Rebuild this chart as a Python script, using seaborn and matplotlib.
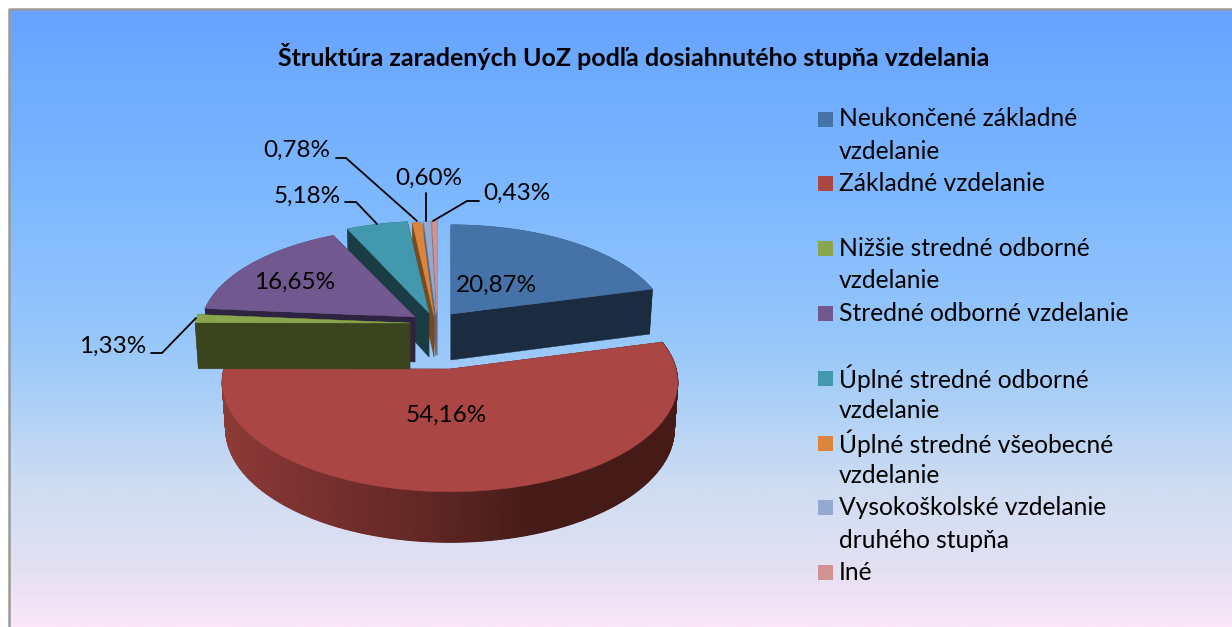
import numpy as np
import matplotlib
matplotlib.use("Agg")
import matplotlib.pyplot as plt
from matplotlib.patches import Rectangle
from matplotlib.colors import LinearSegmentedColormap
import seaborn as sns

title = "Štruktúra zaradených UoZ podľa dosiahnutého stupňa vzdelania"
categories = ["Neukončené základné\nvzdelanie", "Základné vzdelanie\n", "Nižšie stredné odborné\nvzdelanie",
              "Stredné odborné vzdelanie\n", "Úplné stredné odborné\nvzdelanie", "Úplné stredné všeobecné\nvzdelanie",
              "Vysokoškolské vzdelanie\ndruhého stupňa", "Iné"]
values = [20.87, 54.16, 1.33, 16.65, 5.18, 0.78, 0.60, 0.43]

top_colors = ["#4572A7", "#AA4643", "#89A54E", "#71588F", "#4198AF", "#DB843D", "#93A9CF", "#D19392"]
side_colors = ["#1B2B40", "#461B17", "#3A441E", "#2E2340", "#1A3C45", "#7A4A1C", "#5A6880", "#806060"]

# layout of the exploded 3-D pie in pixel space: apex x, apex y, radius x, radius y, depth
layout = [(451, 314, 215, 100, 46), (450, 369, 226, 108, 46), (410, 323, 215, 100, 46), (415, 317, 213, 100, 45),
          (429, 313, 213, 103, 44), (434, 316, 213, 105, 41), (436, 315, 213, 105, 41), (437, 314, 213, 105, 41)]
PERSP = 0.12

label_pos = [(496, 285), (446, 415), (113, 346), (295, 282), (307, 196), (297, 150), (429, 178), (517, 193)]
leaders = {2: [(151, 353), (162, 353), (196, 318)], 4: [(345, 202), (356, 202), (377, 224)],
           5: [(336, 158), (346, 158), (417, 221)], 6: [(426, 193), (426, 221)],
           7: [(479, 201), (467, 201), (433, 221)]}
draw_order = [7, 6, 5, 4, 3, 1, 2, 0]

sns.set_theme(style="white")
plt.rcParams["font.family"] = ["Lato", "DejaVu Sans"]
palette = sns.color_palette(top_colors)

fig = plt.figure(figsize=(12.32, 6.27), dpi=100, facecolor="white")
ax = fig.add_axes([0, 0, 1, 1])
ax.set_xlim(0, 1232)
ax.set_ylim(627, 0)
ax.axis("off")

# background gradient
stops = [(0.0, "#66A3FF"), (0.30, "#7DB8FF"), (0.55, "#99C8FA"), (0.78, "#CFDDF2"), (0.90, "#E2E0F2"), (1.0, "#FAE6F8")]
cmap = LinearSegmentedColormap.from_list("bg", stops)
ax.imshow(np.linspace(0, 1, 256).reshape(-1, 1), cmap=cmap, extent=(10, 1232, 627, 9), aspect="auto", zorder=0)
ax.set_xlim(0, 1232)
ax.set_ylim(627, 0)
ax.plot([9, 9, 1232], [627, 8.5, 8.5], color="#9A9A9A", lw=1.8, solid_capstyle="butt", zorder=1)


def rim(theta, wedge, lower=False):
    cx, cy, rx, ry, d = wedge
    X, Y = np.sin(theta), np.cos(theta)
    s = 1 / (1 + PERSP * Y)
    k = 0.985 if lower else 1.0
    return cx + k * rx * X * s, cy - k * ry * Y * s + (d * s if lower else 0)


edges = np.radians(np.concatenate([[0], np.cumsum(values)]) * 3.6)


def red_side(x):
    xs = [225, 310, 430, 530, 680]
    rgb = np.array([[140, 58, 54], [122, 50, 47], [96, 39, 37], [70, 28, 24], [70, 27, 23]]) / 255
    return [np.interp(x, xs, rgb[:, i]) for i in range(3)]


for z0, i in enumerate(draw_order):
    w = layout[i]
    z = 2 + z0
    t0, t1 = edges[i], edges[i + 1]
    th = np.linspace(t0, t1, max(int(np.degrees(t1 - t0) / 0.6), 3))
    tx, ty = rim(th, w)
    bx, by = rim(th, w, lower=True)
    apex = (w[0], w[1])
    low = (w[0], w[1] + w[4])
    side = side_colors[i]
    # cut faces
    for a in (0, -1):
        ax.fill([apex[0], tx[a], bx[a], low[0]], [apex[1], ty[a], by[a], low[1]], color=side, lw=0.3, zorder=z)
    # rim wall: a solid base, then shaded strips over it
    ax.fill(np.r_[tx, bx[::-1]], np.r_[ty, by[::-1]], color=side, lw=0, zorder=z)
    if i == 1:
        for j in range(len(th) - 1):
            col = red_side((tx[j] + tx[j + 1]) / 2)
            ax.fill([tx[j], tx[j + 1], bx[j + 1], bx[j]], [ty[j], ty[j + 1], by[j + 1], by[j]],
                    facecolor=col, edgecolor=col, lw=0.9, zorder=z)
    # top face
    ax.fill(np.r_[apex[0], tx], np.r_[apex[1], ty], color=palette[i], lw=0.3, zorder=z + 0.5)

# data labels
for i, (v, (lx, ly)) in enumerate(zip(values, label_pos)):
    ax.text(lx, ly, f"{v:.2f}".replace(".", ",") + "%", ha="center", va="center", fontsize=17.5, color="black", zorder=20)
for pts in leaders.values():
    ax.plot(*zip(*pts), color="black", lw=1.3, zorder=19)

# title
ax.text(634, 57, title, ha="center", va="center", fontsize=18, fontweight="bold", color="black", zorder=20)

# legend
LINE = 32.4
row = 0
for name, col in zip(categories, palette):
    y = 119 + row * LINE
    ax.add_patch(Rectangle((818, y - 7.5), 15, 15, color=col, lw=0, zorder=20))
    lines = name.split("\n")
    for n, part in enumerate(lines):
        ax.text(839, y + n * LINE, part, ha="left", va="center", fontsize=17.7, color="black", zorder=20)
    row += len(lines)

fig.savefig("out.png", dpi=100)
